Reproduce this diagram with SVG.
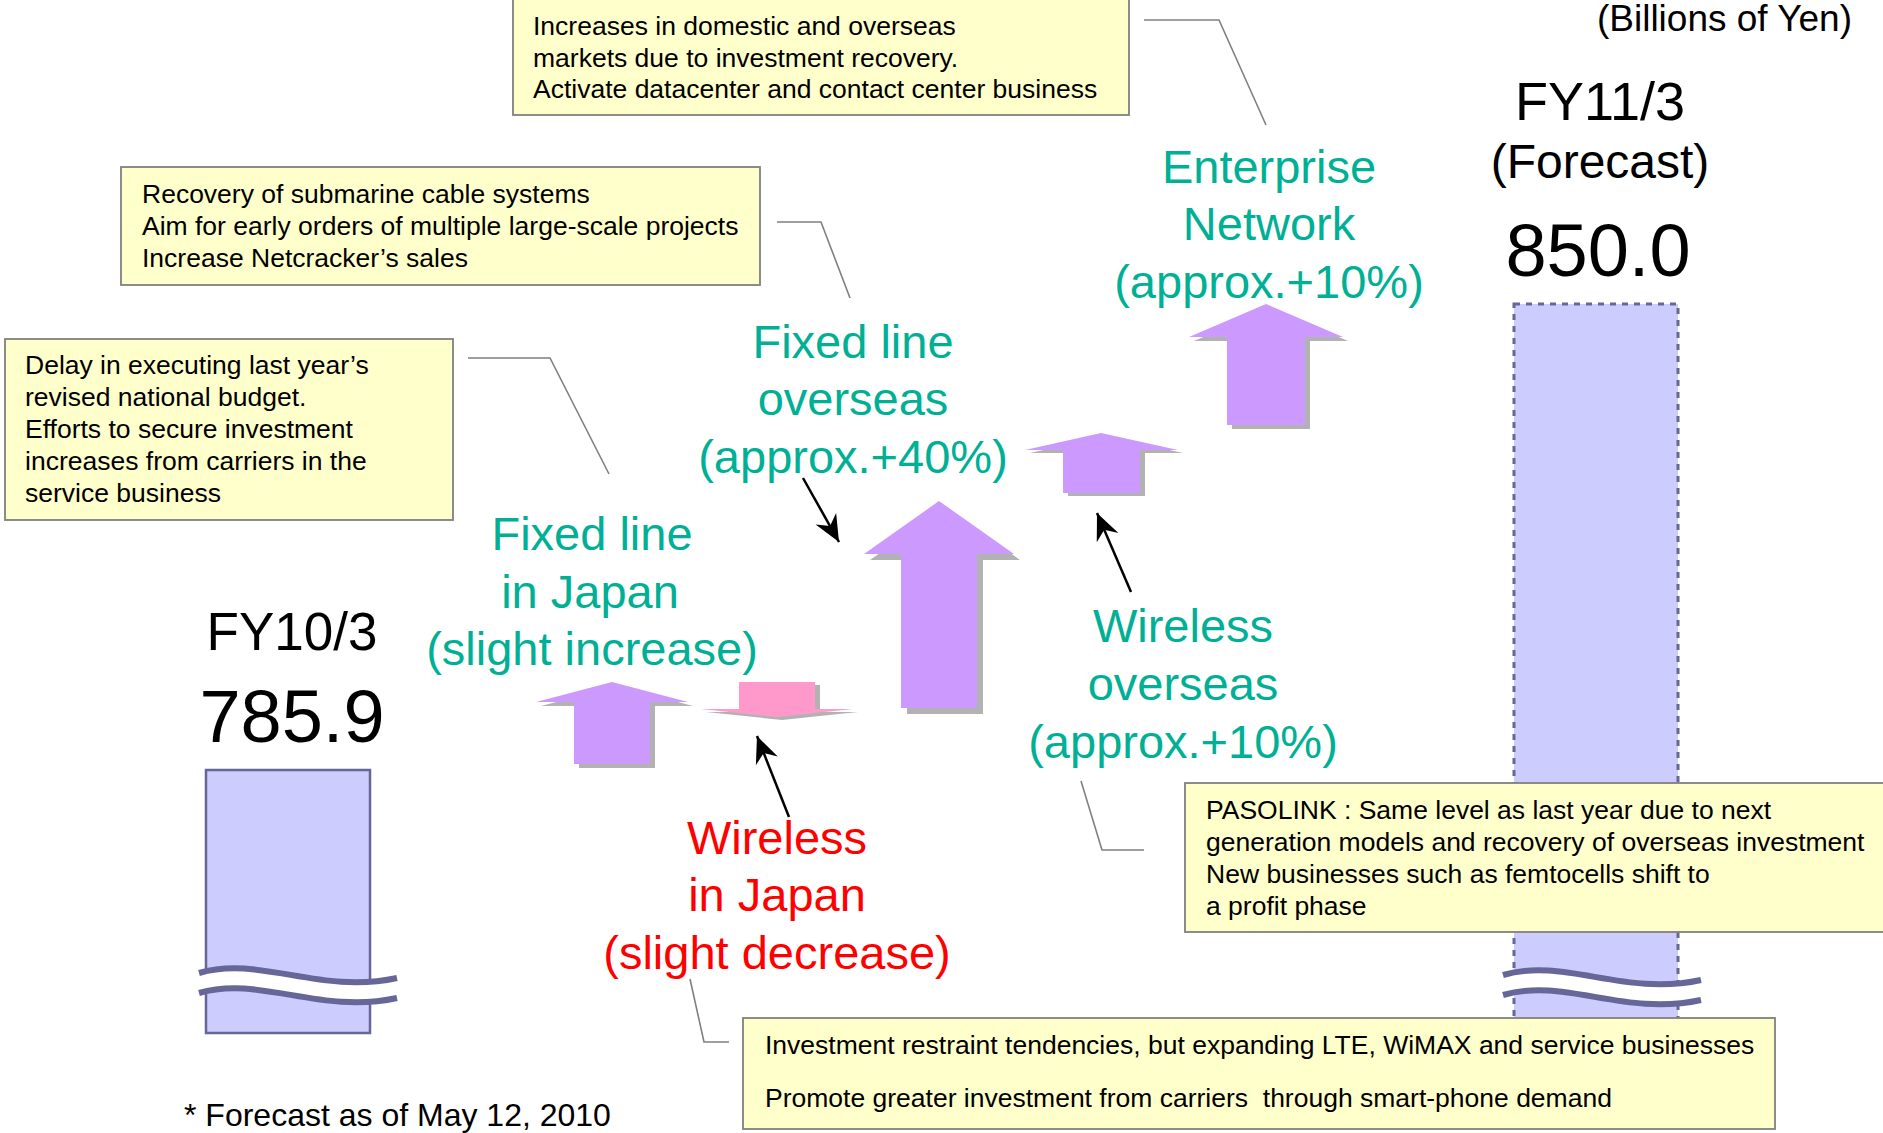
<svg xmlns="http://www.w3.org/2000/svg" width="1883" height="1133" viewBox="0 0 1883 1133">
  <style>
    text { font-family: "Liberation Sans", Arial, sans-serif; }
    .note { fill: #FFFFCC; stroke: #808080; stroke-width: 1.8; }
    .note-text { font-size: 26.5px; fill: #000; }
    .seg { font-size: 47px; fill: #00B095; text-anchor: middle; }
    .seg-down { font-size: 47px; fill: #FF0000; text-anchor: middle; }
    .fy { font-size: 53px; fill: #000; text-anchor: middle; }
    .val { font-size: 74px; fill: #000; text-anchor: middle; }
    .bar { fill: #CCCCFF; stroke: #666699; stroke-width: 2.5; }
    .bar-fc { fill: #CCCCFF; stroke: #666699; stroke-width: 3; stroke-dasharray: 6 6; }
    .up { fill: #CC99FF; }
    .down { fill: #FF99CC; }
    .shadow { fill: #B2B2B2; }
    .callout { fill: none; stroke: #808080; stroke-width: 1.6; }
    .pointer { fill: none; stroke: #000; stroke-width: 2.5; marker-end: url(#stealth); }
    .wave-line { fill: none; stroke: #666699; stroke-width: 6; }
    .wave-gap { fill: #FFFFFF; }
  </style>
  <defs>
    <marker id="stealth" markerUnits="userSpaceOnUse" markerWidth="30" markerHeight="30" refX="0" refY="0" viewBox="-26 -12 28 24" orient="auto">
      <path d="M0,0 L-25,-11 L-17,0 L-25,11 Z" fill="#000"/>
    </marker>
    <!-- axis-break wave: white gap between two wavy strokes -->
    <g id="wave">
      <path class="wave-gap" d="M199,973 C260,955 320,995 397,978 L397,998 C320,1015 260,975 199,993 Z"/>
      <path class="wave-line" d="M199,973 C260,955 320,995 397,978"/>
      <path class="wave-line" d="M199,993 C260,975 320,1015 397,998"/>
    </g>
  </defs>

  <rect width="1883" height="1133" fill="#FFFFFF"/>

  <!-- unit -->
  <text x="1852" y="31" style="font-size:37px" text-anchor="end">(Billions of Yen)</text>

  <!-- FY10/3 result bar -->
  <g id="fy10">
    <text class="fy" x="292" y="650">FY10/3</text>
    <text class="val" x="292" y="742">785.9</text>
    <rect class="bar" x="206" y="770" width="164" height="263"/>
    <use href="#wave"/>
  </g>

  <!-- FY11/3 forecast bar -->
  <g id="fy11">
    <text class="fy" x="1600" y="120" style="font-size:54px">FY11/3</text>
    <text class="fy" x="1600" y="178" style="font-size:48px">(Forecast)</text>
    <text class="val" x="1598" y="276">850.0</text>
    <rect class="bar-fc" x="1514" y="304" width="164" height="822"/>
    <use href="#wave" transform="translate(1304,2)"/>
  </g>

  <!-- segment change arrows -->
  <g id="arrow-fixed-japan">
    <path class="shadow" transform="translate(5,4)" d="M612,682 L688,702 L650,702 L650,764 L574,764 L574,702 L536,702 Z"/>
    <path class="up" d="M612,682 L688,702 L650,702 L650,764 L574,764 L574,702 L536,702 Z"/>
  </g>
  <g id="arrow-wireless-japan">
    <path class="shadow" transform="translate(5,3)" d="M739,682 L815,682 L815,709 L853,709 L777,717 L701,709 L739,709 Z"/>
    <path class="down" d="M739,682 L815,682 L815,709 L853,709 L777,717 L701,709 L739,709 Z"/>
  </g>
  <g id="arrow-fixed-overseas">
    <path class="shadow" transform="translate(6,6)" d="M939,501 L1014,554 L977,554 L977,708 L901,708 L901,554 L864,554 Z"/>
    <path class="up" d="M939,501 L1014,554 L977,554 L977,708 L901,708 L901,554 L864,554 Z"/>
  </g>
  <g id="arrow-wireless-overseas">
    <path class="shadow" transform="translate(5,3)" d="M1101,433 L1178,450 L1140,450 L1140,493 L1063,493 L1063,450 L1025,450 Z"/>
    <path class="up" d="M1101,433 L1178,450 L1140,450 L1140,493 L1063,493 L1063,450 L1025,450 Z"/>
  </g>
  <g id="arrow-enterprise">
    <path class="shadow" transform="translate(5,4)" d="M1266,304 L1343,337 L1305,337 L1305,425 L1227,425 L1227,337 L1189,337 Z"/>
    <path class="up" d="M1266,304 L1343,337 L1305,337 L1305,425 L1227,425 L1227,337 L1189,337 Z"/>
  </g>

  <!-- segment labels -->
  <g id="label-enterprise">
    <text class="seg" x="1269" y="183">Enterprise</text>
    <text class="seg" x="1269" y="240">Network</text>
    <text class="seg" x="1269" y="298">(approx.+10%)</text>
  </g>
  <g id="label-fixed-overseas">
    <text class="seg" x="853" y="358">Fixed line</text>
    <text class="seg" x="853" y="415">overseas</text>
    <text class="seg" x="853" y="473">(approx.+40%)</text>
  </g>
  <g id="label-fixed-japan">
    <text class="seg" x="592" y="550">Fixed line</text>
    <text class="seg" x="590" y="608">in Japan</text>
    <text class="seg" x="592" y="665">(slight increase)</text>
  </g>
  <g id="label-wireless-overseas">
    <text class="seg" x="1183" y="642">Wireless</text>
    <text class="seg" x="1183" y="700">overseas</text>
    <text class="seg" x="1183" y="758">(approx.+10%)</text>
  </g>
  <g id="label-wireless-japan">
    <text class="seg-down" x="777" y="854">Wireless</text>
    <text class="seg-down" x="777" y="911">in Japan</text>
    <text class="seg-down" x="777" y="969">(slight decrease)</text>
  </g>

  <!-- note boxes -->
  <g id="note-enterprise">
    <rect class="note" x="513" y="-5" width="616" height="120"/>
    <text class="note-text" x="533" y="35">Increases in domestic and overseas</text>
    <text class="note-text" x="533" y="67">markets due to investment recovery.</text>
    <text class="note-text" x="533" y="98">Activate datacenter and contact center business</text>
  </g>
  <g id="note-fixed-overseas">
    <rect class="note" x="121" y="167" width="639" height="118"/>
    <text class="note-text" x="142" y="203">Recovery of submarine cable systems</text>
    <text class="note-text" x="142" y="235">Aim for early orders of multiple large-scale projects</text>
    <text class="note-text" x="142" y="267">Increase Netcracker’s sales</text>
  </g>
  <g id="note-fixed-japan">
    <rect class="note" x="5" y="339" width="448" height="181"/>
    <text class="note-text" x="25" y="374">Delay in executing last year’s</text>
    <text class="note-text" x="25" y="406">revised national budget.</text>
    <text class="note-text" x="25" y="438">Efforts to secure investment</text>
    <text class="note-text" x="25" y="470">increases from carriers in the</text>
    <text class="note-text" x="25" y="502">service business</text>
  </g>
  <g id="note-wireless-overseas">
    <rect class="note" x="1185" y="783" width="720" height="149"/>
    <text class="note-text" x="1206" y="819">PASOLINK : Same level as last year due to next</text>
    <text class="note-text" x="1206" y="851">generation models and recovery of overseas investment</text>
    <text class="note-text" x="1206" y="883">New businesses such as femtocells shift to</text>
    <text class="note-text" x="1206" y="915">a profit phase</text>
  </g>
  <g id="note-wireless-japan">
    <rect class="note" x="743" y="1018" width="1032" height="111"/>
    <text class="note-text" x="765" y="1054">Investment restraint tendencies, but expanding LTE, WiMAX and service businesses</text>
    <text class="note-text" x="765" y="1107" xml:space="preserve">Promote greater investment from carriers  through smart-phone demand</text>
  </g>

  <!-- connectors: callout leaders and pointer arrows -->
  <g id="connectors">
    <polyline class="callout" points="1144,20 1219,20 1266,125"/>
    <polyline class="callout" points="777,222 821,222 850,298"/>
    <polyline class="callout" points="468,358 550,358 609,474"/>
    <polyline class="callout" points="1081,781 1102,850 1144,850"/>
    <polyline class="callout" points="690,979 704,1042 729,1042"/>
    <line class="pointer" x1="803" y1="478" x2="839" y2="542"/>
    <line class="pointer" x1="789" y1="817" x2="757" y2="736"/>
    <line class="pointer" x1="1131" y1="592" x2="1097" y2="513"/>
  </g>

  <!-- footnote -->
  <text x="184" y="1126" style="font-size:32px">* Forecast as of May 12, 2010</text>
</svg>
